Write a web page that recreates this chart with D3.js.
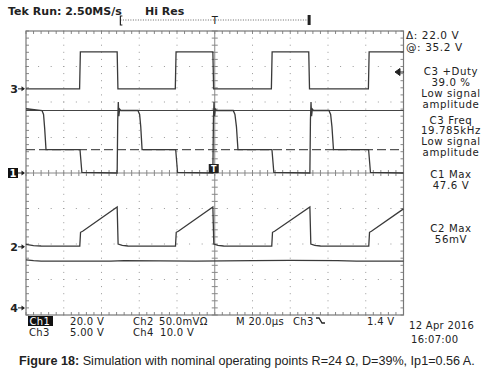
<!DOCTYPE html>
<html>
<head>
<meta charset="utf-8">
<title>Tek scope capture</title>
<script src="https://cdn.jsdelivr.net/npm/d3@7"></script>
<style>
  body { margin: 0; background: #fff; }
  svg text { font-family: "DejaVu Sans", sans-serif; fill: #222; }
  .cap { font-family: "Liberation Sans", Arial, sans-serif; }
</style>
</head>
<body>
<div id="chart"></div>
<script>
// waveform samples, time in µs, value in channel units
const ch1 = [[0,36.2],[8.5,35.2],[9.3,33],[9.9,25],[10.6,13.2],[28.6,13.2],[29.6,0.3],[48.3,0],[48.6,30],[48.9,40],[49.2,32],[49.6,36],[50.2,35.2],
  [59.3,35.2],[60.2,33],[60.8,26],[61.5,13.2],[79.3,13.2],[80.3,0.3],[99.0,0],[99.3,30],[99.6,40],[99.9,32],[100.3,36],[100.9,35.2],
  [109.8,35.2],[110.7,33],[111.5,26],[112.3,13.2],[130.3,13.2],[131.3,0.3],[150.4,0],[150.7,30],[151,40],[151.3,32],[151.7,36],[152.3,35.2],
  [160.5,35.2],[161.4,33],[162.1,26],[162.9,13.2],[181.5,13.2],[182.5,0.3],[200,0]];
const ch2 = [[0,3.4],[4,1.8],[8,1.2],[28.5,1],[28.9,20.5],[30,22],[48.3,56],[48.8,4],[51,2],[54,1.2],
  [79.2,1],[79.6,20.5],[80.7,22],[99.0,56],[99.5,4],[101.7,2],[104.7,1.2],
  [130.2,1],[130.6,20.5],[131.7,22],[150.4,56],[150.9,4],[153,2],[156,1.2],
  [181.6,1],[182,20.5],[183,22],[200,53.5]];
const ch3 = [[0,0],[28.4,0],[28.8,5.2],[48.3,5.2],[48.7,0],[79.1,0],[79.5,5.2],[99.0,5.2],[99.4,0],
  [130.0,0],[130.4,5.2],[149.8,5.2],[150.2,0],[181.4,0],[181.8,5.2],[200,5.2]];
const ch4 = [[0,13.5],[4,13.3],[8,13.2],[45,13.2],[52,13.3],[90,13.2],[120,13.3],[140,13.4],[165,13.3],[175,13.2],[200,13.2]];

// channel settings: volts per div and ground offset in divisions
const chDiv = { ch1: 20, ch2: 50, ch3: 5, ch4: 10 };
const chOff = { ch1: 0, ch2: -2.08, ch3: 2.37, ch4: -3.8 };

const cursorAt = 35.2, cursorDelta = 22.0;
const groundMarks = [["3", 2.37], ["1", 0], ["2", -2.08], ["4", -3.8]];

const readout = [["C3 +Duty", 75], ["39.0 %", 86], ["Low signal", 97], ["amplitude", 108],
  ["C3 Freq", 124], ["19.785kHz", 134], ["Low signal", 145], ["amplitude", 156],
  ["C1 Max", 178], ["47.6 V", 189], ["C2 Max", 232], ["56mV", 243]];

const W = 497, H = 373;
const svg = d3.select("#chart").append("svg").attr("width", W).attr("height", H);

const x = d3.scaleLinear().domain([0, 200]).range([26, 403.5]);
const y = d3.scaleLinear().domain([-4, 4]).range([315, 31]);

const grid = svg.append("g").attr("stroke", "#888").attr("stroke-width", 1);

// dotted graticule lines
const xDiv = 20;
d3.range(1, 10).filter(i => i !== 5).forEach(i => {
  grid.append("g").selectAll("rect").data(d3.range(-4, 4.01, 0.2)).join("rect")
    .attr("x", x(i * xDiv) - 0.5).attr("y", d => y(d) - 0.5).attr("width", 1).attr("height", 1)
    .attr("fill", "#999").attr("stroke", "none");
});
d3.range(-3, 4).filter(i => i !== 0).forEach(i => {
  grid.append("g").selectAll("rect").data(d3.range(0, 200.1, 20 / 3)).join("rect")
    .attr("x", d => x(d) - 0.5).attr("y", y(i) - 0.5).attr("width", 1).attr("height", 1)
    .attr("fill", "#999").attr("stroke", "none");
});

// centre axes with ticks
grid.append("line").attr("x1", x(0)).attr("x2", x(200)).attr("y1", y(0)).attr("y2", y(0));
grid.append("line").attr("x1", x(100)).attr("x2", x(100)).attr("y1", y(-4)).attr("y2", y(4));
grid.selectAll(".hx").data(d3.range(0, 200.1, 4)).join("line")
  .attr("x1", d => x(d)).attr("x2", d => x(d)).attr("y1", y(0) - 3).attr("y2", y(0) + 3);
grid.selectAll(".vy").data(d3.range(-4, 4.01, 0.2)).join("line")
  .attr("x1", x(100) - 3).attr("x2", x(100) + 3).attr("y1", d => y(d)).attr("y2", d => y(d));

// border ticks
grid.selectAll(".tt").data(d3.range(0, 200.1, 4)).join("line")
  .attr("x1", d => x(d)).attr("x2", d => x(d)).attr("y1", y(4)).attr("y2", y(4) + 3);
grid.selectAll(".tb").data(d3.range(0, 200.1, 4)).join("line")
  .attr("x1", d => x(d)).attr("x2", d => x(d)).attr("y1", y(-4)).attr("y2", y(-4) - 3);
grid.selectAll(".tl").data(d3.range(-4, 4.01, 0.2)).join("line")
  .attr("x1", x(0)).attr("x2", x(0) + 3).attr("y1", d => y(d)).attr("y2", d => y(d));
grid.selectAll(".tr").data(d3.range(-4, 4.01, 0.2)).join("line")
  .attr("x1", x(200)).attr("x2", x(200) - 3).attr("y1", d => y(d)).attr("y2", d => y(d));

svg.append("rect").attr("x", x(0)).attr("y", y(4)).attr("width", x(200) - x(0)).attr("height", y(-4) - y(4))
  .attr("fill", "none").attr("stroke", "#777").attr("stroke-width", 1.2);

// cursors (ch1 volts)
svg.append("line").attr("x1", x(0)).attr("x2", x(200))
  .attr("y1", y(cursorAt / chDiv.ch1)).attr("y2", y(cursorAt / chDiv.ch1))
  .attr("stroke", "#444").attr("stroke-width", 1.2);
svg.append("line").attr("x1", x(0)).attr("x2", x(200))
  .attr("y1", y((cursorAt - cursorDelta) / chDiv.ch1)).attr("y2", y((cursorAt - cursorDelta) / chDiv.ch1))
  .attr("stroke", "#555").attr("stroke-width", 1.2).attr("stroke-dasharray", "9,4");

// traces
const traces = [["ch3", ch3], ["ch1", ch1], ["ch2", ch2], ["ch4", ch4]];
traces.forEach(([k, data]) => {
  const line = d3.line().x(d => x(d[0])).y(d => y(chOff[k] + d[1] / chDiv[k]));
  svg.append("path").datum(data).attr("d", line)
    .attr("fill", "none").attr("stroke", "#3a3a3a").attr("stroke-width", 1.3);
});

// ground markers on the left
groundMarks.forEach(([lab, off]) => {
  const gy = y(off);
  const g = svg.append("g");
  if (lab === "1") {
    g.append("rect").attr("x", 8).attr("y", gy - 5).attr("width", 10).attr("height", 10).attr("fill", "#111");
    g.append("text").attr("x", 13).attr("y", gy + 4).attr("text-anchor", "middle")
      .attr("font-size", 10).attr("font-weight", "bold").style("fill", "#fff").text(lab);
  } else {
    g.append("text").attr("x", 14).attr("y", gy + 4).attr("text-anchor", "middle")
      .attr("font-size", 11).attr("font-weight", "bold").text(lab);
  }
  g.append("line").attr("x1", 18).attr("x2", 24).attr("y1", gy).attr("y2", gy).attr("stroke", "#222").attr("stroke-width", 1);
  g.append("path").attr("d", `M${25},${gy} l-3.5,-2.5 v5 z`).attr("fill", "#222");
});

// trigger marker box near centre, trigger level arrow on the right
svg.append("rect").attr("x", x(100) - 6).attr("y", y(0) - 9).attr("width", 10).attr("height", 9).attr("fill", "#222");
svg.append("text").attr("x", x(100) - 1).attr("y", y(0) - 1.5).attr("text-anchor", "middle")
  .attr("font-size", 8).attr("font-weight", "bold").style("fill", "#fff").text("T");
svg.append("path").attr("d", "M395,72 l5,-3.5 v7 z M399,72 h5").attr("fill", "#222").attr("stroke", "#222");

// record bracket at top
const by = 20;
svg.append("line").attr("x1", x(50)).attr("x2", x(150)).attr("y1", by).attr("y2", by)
  .attr("stroke", "#666").attr("stroke-dasharray", "1,1.5");
svg.append("path").attr("d", `M${x(50) + 2},${by - 4} h-2 v9 h2`).attr("fill", "none").attr("stroke", "#222").attr("stroke-width", 1.2);
svg.append("rect").attr("x", x(150) - 1.5).attr("y", by - 5).attr("width", 3).attr("height", 10).attr("fill", "#222");
svg.append("text").attr("x", x(100)).attr("y", by + 4).attr("text-anchor", "middle").attr("font-size", 10).text("T");

// header
const hdr = svg.append("text").attr("x", 8).attr("y", 15).attr("font-size", 11).attr("font-weight", "bold");
hdr.append("tspan").text("Tek");
hdr.append("tspan").attr("dx", 4).text("Run: 2.50MS/s");
svg.append("text").attr("x", 145).attr("y", 15).attr("font-size", 11).attr("font-weight", "bold").text("Hi Res");

// cursor readout
svg.append("text").attr("x", 406).attr("y", 39).attr("font-size", 10.5).attr("letter-spacing", 0.6).text("Δ: 22.0 V");
svg.append("text").attr("x", 406).attr("y", 51).attr("font-size", 10.5).attr("letter-spacing", 0.6).text("@: 35.2 V");

// measurement readout
svg.append("g").selectAll("text").data(readout).join("text")
  .attr("x", 451).attr("y", d => d[1]).attr("text-anchor", "middle")
  .attr("font-size", 10.2).attr("letter-spacing", 0.6).text(d => d[0]);

// bottom settings
const bot = [["20.0 V", 70, 325], ["Ch2", 133, 325], ["50.0mVΩ", 159, 325], ["M 20.0µs", 236, 325], ["Ch3", 293, 325], ["1.4 V", 367, 325],
  ["Ch3", 29, 336], ["5.00 V", 70, 336], ["Ch4", 133, 336], ["10.0 V", 160, 336],
  ["12 Apr 2016", 409, 329], ["16:07:00", 411, 343]];
svg.append("rect").attr("x", 28).attr("y", 316).attr("width", 25).attr("height", 10).attr("fill", "#111");
svg.append("text").attr("x", 29.5).attr("y", 325).attr("font-size", 10).attr("letter-spacing", 0.3).style("fill", "#fff").text("Ch1");
svg.append("g").selectAll("text").data(bot).join("text")
  .attr("x", d => d[1]).attr("y", d => d[2]).attr("font-size", 10).attr("letter-spacing", 0.3).text(d => d[0]);
svg.append("path").attr("d", "M316,318 h3 l3,5 h3").attr("fill", "none").attr("stroke", "#222").attr("stroke-width", 1.3);

// caption
const cap = svg.append("text").attr("class", "cap").attr("x", 19).attr("y", 365).attr("font-size", 12.6);
cap.append("tspan").attr("font-weight", "bold").text("Figure 18:");
cap.append("tspan").text(" Simulation with nominal operating points R=24 Ω, D=39%, Ip1=0.56 A.");
</script>
</body>
</html>
